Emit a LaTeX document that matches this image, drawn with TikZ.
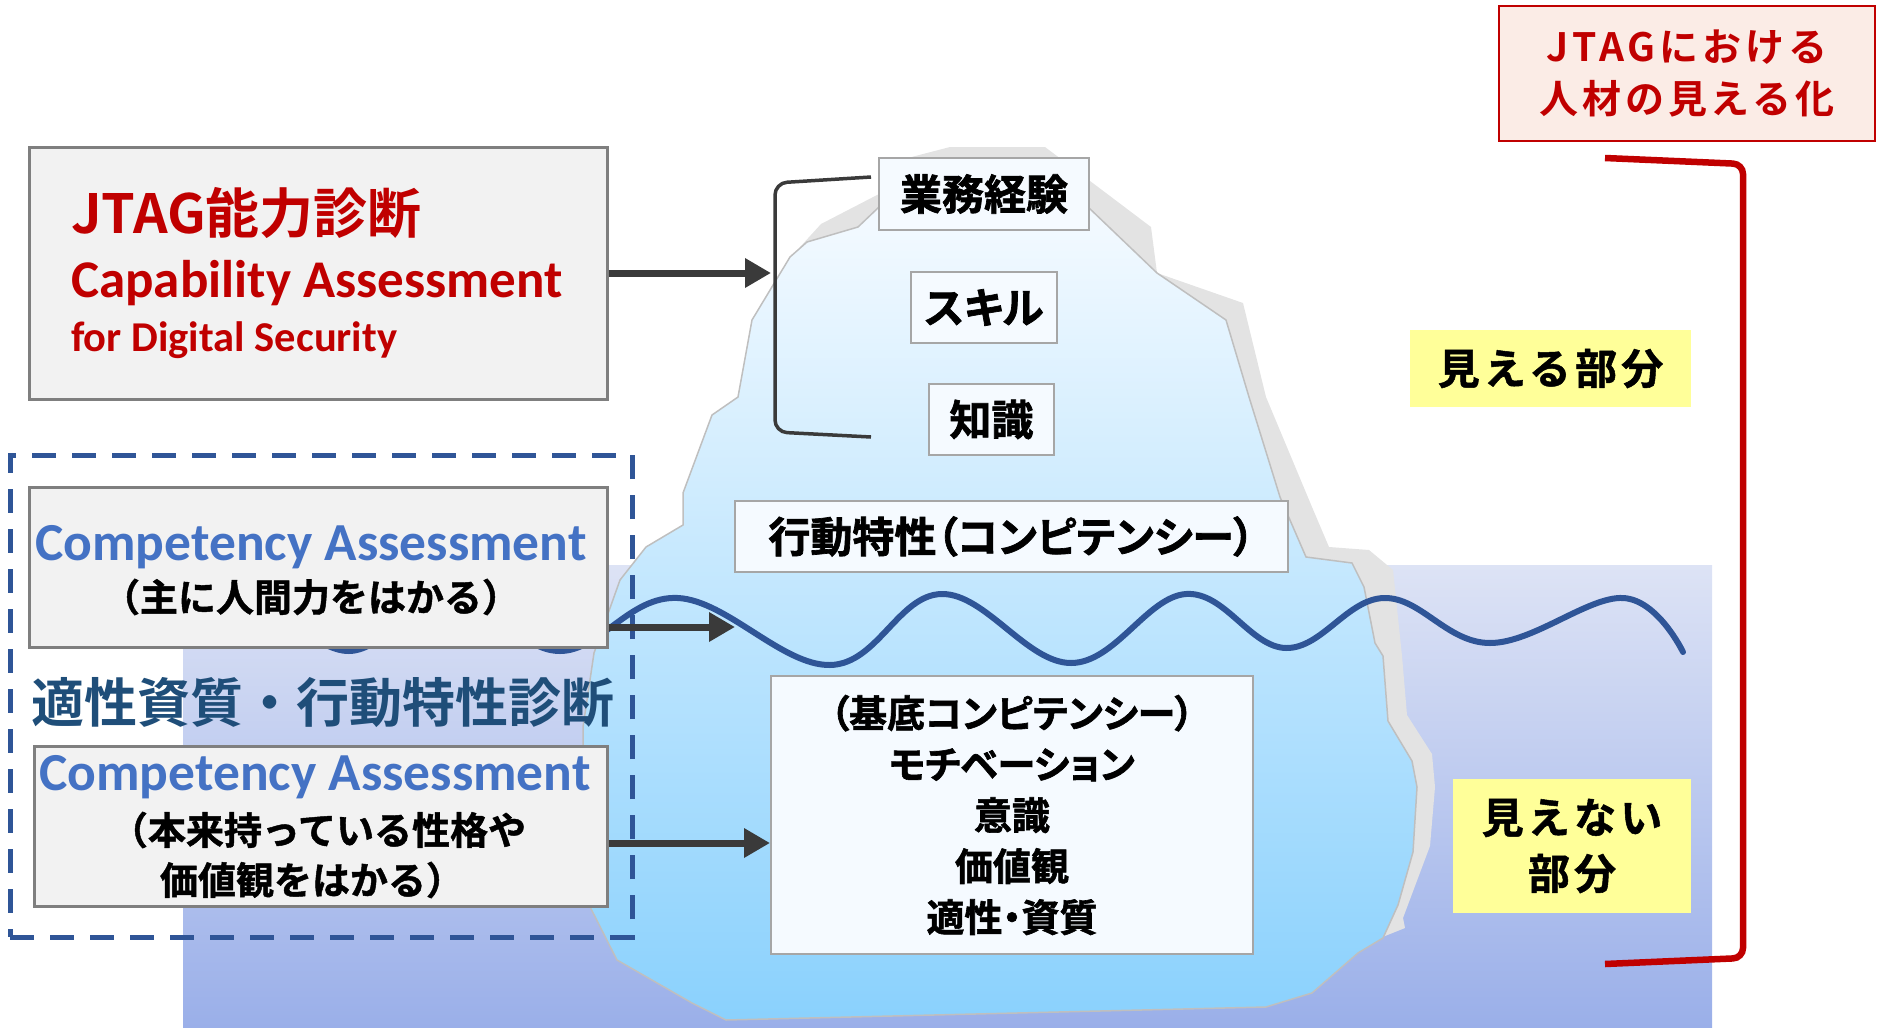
\documentclass[tikz,border=0pt]{standalone}
\usepackage{fontspec}
\setmainfont{Carlito}
\newfontfamily\jptfont{Noto Sans CJK JP}[BoldFont={* Bold}]
\newfontfamily\jpfont{Noto Sans CJK JP}[BoldFont={* Bold},BoldFeatures={FakeBold=1.2}]
\newfontfamily\jppfont{Noto Sans CJK JP}[BoldFont={* Bold},BoldFeatures={FakeBold=1.6},RawFeature=+palt]
\usetikzlibrary{calc}
\usetikzlibrary{arrows.meta}

\definecolor{jtagred}{HTML}{C00000}
\definecolor{compblue}{HTML}{4472C4}
\definecolor{diagblue}{HTML}{1F4E79}
\definecolor{wavecol}{HTML}{2F5597}
\definecolor{boxgray}{HTML}{F2F2F2}
\definecolor{edgegray}{HTML}{7F7F7F}
\definecolor{arrowgray}{HTML}{3A3A3A}
\definecolor{hintyellow}{HTML}{FFFF99}
\definecolor{titlefill}{HTML}{FBECE6}
\definecolor{watertop}{HTML}{DDE3F5}
\definecolor{waterbot}{HTML}{9AAFE9}
\definecolor{icetop}{HTML}{F9FCFF}
\definecolor{icemid}{HTML}{CFE9FC}
\definecolor{icebot}{HTML}{8AD1FD}
\definecolor{iceedge}{HTML}{BFBFBF}
\definecolor{shadowgray}{HTML}{E3E3E3}
\definecolor{icefill}{HTML}{F5FAFF}
\definecolor{labeledge}{HTML}{A6A6A6}

\begin{document}
\begin{tikzpicture}[x=1pt,y=-1pt,
  graybox/.style={draw=edgegray,line width=3pt,fill=boxgray,inner sep=0pt},
  icebox/.style={draw=labeledge,line width=2pt,fill=icefill,inner sep=0pt,
    font=\jppfont\bfseries\fontsize{42}{42}\selectfont},
  hintbox/.style={fill=hintyellow,inner sep=0pt,align=center,
    font=\jpfont\bfseries\fontsize{42}{56}\selectfont\addfontfeature{LetterSpace=10}},
  bigarrow/.style={draw=arrowgray,line width=7pt,-{Triangle[length=26pt,width=28pt]}},
  txt/.style={inner sep=0pt}]

\useasboundingbox (0,0) rectangle (1877,1028);

\fill[top color=watertop,bottom color=waterbot] (183,565) rectangle (1712,1028);

\fill[shadowgray] (800,247) -- (821,224) -- (879,194) -- (900,160) -- (950,147) -- (1045,147)
  -- (1151,227) -- (1157,273) -- (1243,303) -- (1266,397) -- (1312,507) -- (1329,547)
  -- (1369,550) -- (1393,570) -- (1402,656) -- (1407,715) -- (1432,754) -- (1435,787)
  -- (1430,846) -- (1403,918) -- (1405,928) -- (1380,938) -- (1300,900) -- (720,500) -- cycle;

\draw[draw=iceedge,line width=1.5pt,top color=icetop,middle color=icemid,bottom color=icebot]
  (620,580) -- (646,547) -- (683,525) -- (683,493) -- (712,415) -- (738,397) -- (752,320)
  -- (790,257) -- (807,242) -- (858,227) -- (879,207) -- (890,170) -- (1080,170) -- (1088,207)
  -- (1157,273) -- (1226,320) -- (1249,397) -- (1280,497) -- (1306,557) -- (1352,563)
  -- (1364,587) -- (1375,643) -- (1383,656) -- (1388,721) -- (1412,761) -- (1417,787)
  -- (1413,852) -- (1398,905) -- (1383,938) -- (1358,953) -- (1312,993) -- (1266,1007)
  -- (726,1020) -- (692,1003) -- (617,960) -- (583,893) -- (583,727) -- (594,653) -- cycle;

\draw[wavecol,line width=6pt,line cap=round] plot[smooth,tension=0.65] coordinates {
  (270,600) (349,651) (455,598) (560,651) (678,598) (830,665) (942,594) (1071,663)
  (1186,594) (1286,648) (1384,598) (1490,643) (1623,598) (1683,652)};

\coordinate (brtop) at (871,177);
\coordinate (brbot) at (871,437);
\draw[arrowgray,line width=3.5pt,rounded corners=12pt] (brtop) -- (775,183) -- (775,432) -- (brbot);

\coordinate (redtop) at (1605,158);
\coordinate (redbot) at (1605,964);
\draw[jtagred,line width=6.5pt,rounded corners=10pt] (redtop) -- (1743,164) -- (1743,958) -- (redbot);

\node[graybox,minimum width=578,minimum height=252] (cap) at (318,273) {};
\node[txt,anchor=west,text=jtagred,font=\jptfont\bfseries\fontsize{54}{54}\selectfont] (capjp) at (71,213) {JTAG能力診断};
\node[txt,anchor=base west,text=jtagred,font=\bfseries\fontsize{53}{53}\selectfont] (capen) at (71,297) {Capability Assessment};
\node[txt,anchor=base west,text=jtagred,font=\bfseries\fontsize{42.5}{42.5}\selectfont] (capfor) at (71,351) {for Digital Security};

\node[graybox,minimum width=578,minimum height=160] (comp1) at (318,567) {};
\node[txt,anchor=base,text=compblue,font=\bfseries\fontsize{53.5}{53.5}\selectfont] (comp1en) at (311,560) {Competency Assessment};
\node[txt,font=\jpfont\bfseries\fontsize{38}{38}\selectfont] (comp1jp) at (311,597) {（主に人間力をはかる）};

\node[txt,text=diagblue,font=\jptfont\bfseries\fontsize{53}{53}\selectfont] (diag) at (323,703) {適性資質・行動特性診断};

\node[graybox,minimum width=573,minimum height=160] (comp2) at (320.5,826) {};
\node[txt,anchor=base,text=compblue,font=\bfseries\fontsize{53.5}{53.5}\selectfont] (comp2en) at (315,790) {Competency Assessment};
\node[txt,font=\jpfont\bfseries\fontsize{38}{38}\selectfont] (comp2a) at (318,830) {（本来持っている性格や};
\node[txt,font=\jpfont\bfseries\fontsize{38}{38}\selectfont] (comp2b) at (312,880) {価値観をはかる）};

\node[draw=wavecol,line width=5pt,dash pattern=on 24pt off 16pt,minimum width=622,minimum height=482] (frame) at (321,696) {};

\node[icebox,minimum width=210,minimum height=72] (gyomu) at (984,194) {業務経験};
\node[icebox,minimum width=146,minimum height=71] (skill) at (984,307.5) {スキル};
\node[icebox,minimum width=125,minimum height=71] (chishiki) at (991.5,419.5) {知識};
\node[icebox,minimum width=553,minimum height=71] (koudou) at (1011.5,536.5) {行動特性（コンピテンシー）};
\node[icebox,minimum width=482,minimum height=278,align=center,
  font=\jppfont\bfseries\fontsize{38}{51}\selectfont] (base) at (1012,815)
  {（基底コンピテンシー）\\モチベーション\\意識\\価値観\\適性・資質};

\coordinate (tip0) at (771,273);
\coordinate (tip1) at (735,627);
\coordinate (tip2) at (771,843);
\draw[bigarrow] (cap.east) -- (tip0);
\draw[bigarrow] (comp1.east |- tip1) -- (tip1);
\draw[bigarrow] (comp2.east |- tip2) -- (base.west |- tip2);

\node[hintbox,minimum width=281,minimum height=77] (mieru) at (1550.5,368.5) {見える部分};
\node[hintbox,minimum width=238,minimum height=134] (mienai) at (1572,846) {見えない\\部分};

\node[draw=jtagred,line width=2pt,fill=titlefill,minimum width=376,minimum height=135,
  align=center,text=jtagred,inner sep=0pt,
  font=\jptfont\bfseries\fontsize{39}{52}\selectfont\addfontfeature{LetterSpace=10}] (title) at (1687,73)
  {JTAGにおける\\人材の見える化};

\end{tikzpicture}
\end{document}
